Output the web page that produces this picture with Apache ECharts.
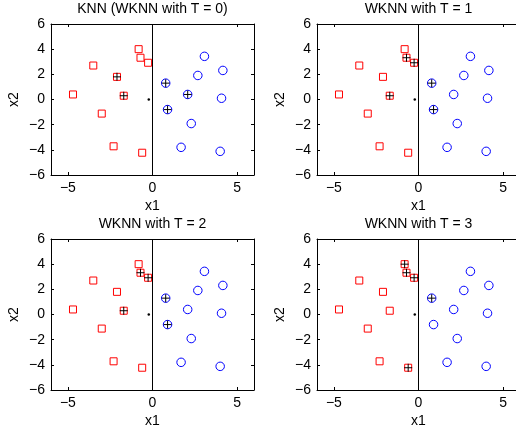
<!DOCTYPE html>
<html><head><meta charset="utf-8">
<script src="https://cdn.jsdelivr.net/npm/echarts@6/dist/echarts.min.js"></script>
<style>html,body{margin:0;padding:0;background:#fff}#c{width:516px;height:433px}</style>
</head><body><div id="c"></div><script>
// ---- data ----
const redX  = [-0.82, -0.71, -0.26, -3.5, -2.1, -1.7, -4.7, -3.0, -2.3, -0.61];
const redY  = [4.0, 3.32, 2.92, 2.7, 1.8, 0.3, 0.4, -1.12, -3.72, -4.23];
const blueX = [3.07, 2.68, 4.16, 0.78, 2.08, 4.08, 0.89, 2.29, 1.69, 4.0];
const blueY = [3.43, 1.91, 2.31, 1.3, 0.4, 0.1, -0.8, -1.91, -3.8, -4.12];
const queryPoint = [-0.22, 0];
const boundaryX = 0;
const titles = ["KNN (WKNN with T = 0)", "WKNN with T = 1", "WKNN with T = 2", "WKNN with T = 3"];
const redHighlight  = [[4, 5], [1, 2, 5], [1, 2, 5], [0, 1, 2, 9]];
const blueHighlight = [[3, 4, 6], [3, 6], [3, 6], [3]];
const xTicks = [-5, 0, 5];
const yTicks = [-6, -4, -2, 0, 2, 4, 6];

// ---- layout ----
const GW = 203, GH = 151;
const gridPos = [[51, 24], [317, 24], [51, 239], [317, 239]];
const FONT = 'Liberation Sans, Arial, Helvetica, sans-serif';
const fmt = v => String(v).replace('-', '\u2212');

const grid = [], xAxis = [], yAxis = [], series = [], title = [];
gridPos.forEach((p, i) => {
  grid.push({left: p[0], top: p[1], width: GW, height: GH, containLabel: false, outerBoundsMode: 'none'});
  title.push({text: titles[i], left: p[0] + GW / 2, top: p[1] - 22, textAlign: 'center', padding: 0,
    textStyle: {fontFamily: FONT, fontSize: 14, fontWeight: 'normal', color: '#000'}});
  const axLine = {show: true, onZero: false, lineStyle: {color: '#000', width: 1}};
  const tick = (vals) => ({show: true, inside: true, length: 3, customValues: vals, lineStyle: {color: '#000'}});
  xAxis.push({gridIndex: i, type: 'value', min: -6, max: 6, position: 'bottom',
    name: 'x1', nameLocation: 'middle', nameGap: 24,
    nameTextStyle: {fontFamily: FONT, fontSize: 14, color: '#000'},
    axisLine: axLine, axisTick: tick(xTicks), splitLine: {show: false},
    axisLabel: {customValues: xTicks, formatter: fmt, fontFamily: FONT, fontSize: 14, color: '#000', margin: 6}});
  yAxis.push({gridIndex: i, type: 'value', min: -6, max: 6, interval: 2, position: 'left',
    name: 'x2', nameLocation: 'middle', nameGap: 30,
    nameTextStyle: {fontFamily: FONT, fontSize: 14, color: '#000'},
    axisLine: axLine, axisTick: tick(yTicks), splitLine: {show: false},
    axisLabel: {formatter: fmt, fontFamily: FONT, fontSize: 14, color: '#000', margin: 6}});
});
gridPos.forEach((p, i) => {
  const axLine = {show: true, onZero: false, lineStyle: {color: '#000', width: 1}};
  xAxis.push({gridIndex: i, type: 'value', min: -6, max: 6, position: 'top',
    axisLine: axLine, axisTick: {show: true, inside: true, length: 3, customValues: xTicks, lineStyle: {color: '#000'}},
    axisLabel: {show: false}, splitLine: {show: false}});
  yAxis.push({gridIndex: i, type: 'value', min: -6, max: 6, interval: 2, position: 'right',
    axisLine: axLine, axisTick: {show: true, inside: true, length: 3, lineStyle: {color: '#000'}},
    axisLabel: {show: false}, splitLine: {show: false}});
});

gridPos.forEach((p, i) => {
  const base = {xAxisIndex: i, yAxisIndex: i, silent: true, animation: false};
  series.push(Object.assign({type: 'line', data: [[boundaryX, -6], [boundaryX, 6]], symbol: 'none',
    lineStyle: {color: '#000', width: 1}}, base));
  series.push(Object.assign({type: 'scatter', symbol: 'rect', symbolSize: 7,
    data: redX.map((x, k) => [x, redY[k]]),
    itemStyle: {color: 'rgba(0,0,0,0)', borderColor: '#ff0000', borderWidth: 1, opacity: 1}}, base));
  series.push(Object.assign({type: 'scatter', symbol: 'circle', symbolSize: 8.5,
    data: blueX.map((x, k) => [x, blueY[k]]),
    itemStyle: {color: 'rgba(0,0,0,0)', borderColor: '#0000ff', borderWidth: 1, opacity: 1}}, base));
  const hl = redHighlight[i].map(k => [redX[k], redY[k]]).concat(blueHighlight[i].map(k => [blueX[k], blueY[k]]));
  series.push(Object.assign({type: 'scatter', symbol: 'rect', symbolSize: [1, 8], data: hl,
    itemStyle: {color: '#000', opacity: 1}}, base));
  series.push(Object.assign({type: 'scatter', symbol: 'rect', symbolSize: [8, 1], data: hl,
    itemStyle: {color: '#000', opacity: 1}}, base));
  series.push(Object.assign({type: 'scatter', symbol: 'circle', symbolSize: 2.5, data: [queryPoint],
    itemStyle: {color: '#000', opacity: 1}}, base));
});

const chart = echarts.init(document.getElementById('c'), null, {renderer: 'canvas'});
chart.setOption({backgroundColor: '#fff', animation: false, title, grid, xAxis, yAxis, series});
</script></body></html>
